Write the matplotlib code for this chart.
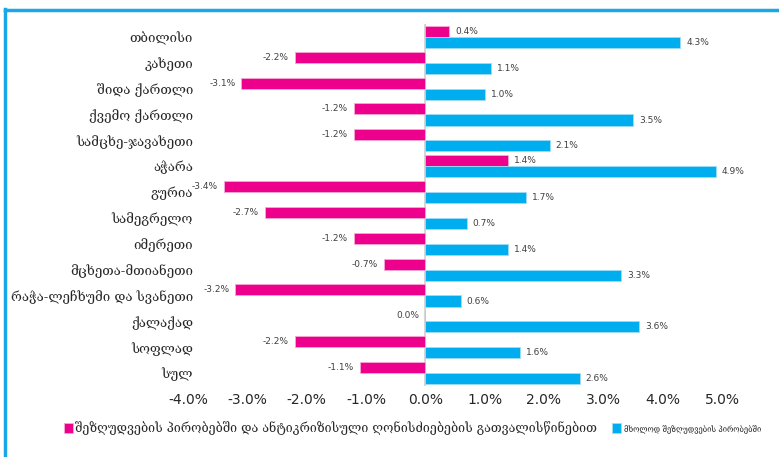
import numpy as np
import matplotlib.pyplot as plt
from matplotlib.lines import Line2D

regions = ['თბილისი', 'კახეთი', 'შიდა ქართლი', 'ქვემო ქართლი', 'სამცხე-ჯავახეთი',
           'აჭარა', 'გურია', 'სამეგრელო', 'იმერეთი', 'მცხეთა-მთიანეთი',
           'რაჭა-ლეჩხუმი და სვანეთი', 'ქალაქად', 'სოფლად', 'სულ']
# with anti-crisis measures (pink) and restrictions only (blue), %
with_measures = [0.4, -2.2, -3.1, -1.2, -1.2, 1.4, -3.4, -2.7, -1.2, -0.7, -3.2, 0.0, -2.2, -1.1]
restrictions_only = [4.3, 1.1, 1.0, 3.5, 2.1, 4.9, 1.7, 0.7, 1.4, 3.3, 0.6, 3.6, 1.6, 2.6]
legend_labels = ['შეზღუდვების პირობებში და ანტიკრიზისული ღონისძიებების გათვალისწინებით',
                 'მხოლოდ შეზღუდვების პირობებში']

pink = '#EC008C'
blue = '#00AEEF'

fig = plt.figure(figsize=(7.79, 4.57), dpi=100)
ax = fig.add_axes([0.2413, 0.1554, 0.6855, 0.7921])

y = np.arange(len(regions))
h = 0.43
b1 = ax.barh(y - h / 2, with_measures, height=h, color=pink, edgecolor='#f7a8d4', linewidth=0.6,
             label=legend_labels[0])
b2 = ax.barh(y + h / 2, restrictions_only, height=h, color=blue, edgecolor='#9fdcf7', linewidth=0.6,
             label=legend_labels[1])

for bars, vals in [(b1, with_measures), (b2, restrictions_only)]:
    for bar, v in zip(bars, vals):
        yc = bar.get_y() + bar.get_height() / 2
        if v > 0:
            ax.text(v + 0.1, yc, f'{v:.1f}%', va='center', ha='left', fontsize=6.5, color='#404040')
        else:
            ax.text(v - 0.1, yc, f'{v:.1f}%', va='center', ha='right', fontsize=6.5, color='#404040')

ax.set_xlim(-4, 5)
ax.set_ylim(len(regions) - 0.5, -0.5)
ax.set_xticks(np.arange(-4, 6, 1))
ax.set_xticklabels([f'{t:.1f}%' for t in np.arange(-4, 6, 1)], fontsize=10, color='#262626')
ax.set_yticks(y)
ax.set_yticklabels(regions, fontsize=9.5, color='#262626', family='DejaVu Serif')
ax.tick_params(axis='x', length=0, pad=5)
ax.tick_params(axis='y', length=0, pad=-3.5)
for s in ax.spines.values():
    s.set_visible(False)
ax.axvline(0, color='#d0d0d0', lw=1.2, zorder=0)

leg = fig.legend(handles=[b1, b2], loc='center left', bbox_to_anchor=(0.068, 0.063), ncol=2,
                 frameon=False, handlelength=0.7, handleheight=0.9, handletextpad=0.2,
                 columnspacing=1.2, fontsize=9)
for t in leg.get_texts():
    t.set_family('DejaVu Serif')
    t.set_color('#262626')
leg.get_texts()[1].set_fontsize(5.5)

# blue frame around the chart
fig.add_artist(Line2D([0.006, 0.006], [0, 0.98], transform=fig.transFigure, color='#1AA7E8', lw=2.5))
fig.add_artist(Line2D([0.006, 1], [0.978, 0.978], transform=fig.transFigure, color='#1AA7E8', lw=2.5))

fig.savefig('out.png', dpi=100)
